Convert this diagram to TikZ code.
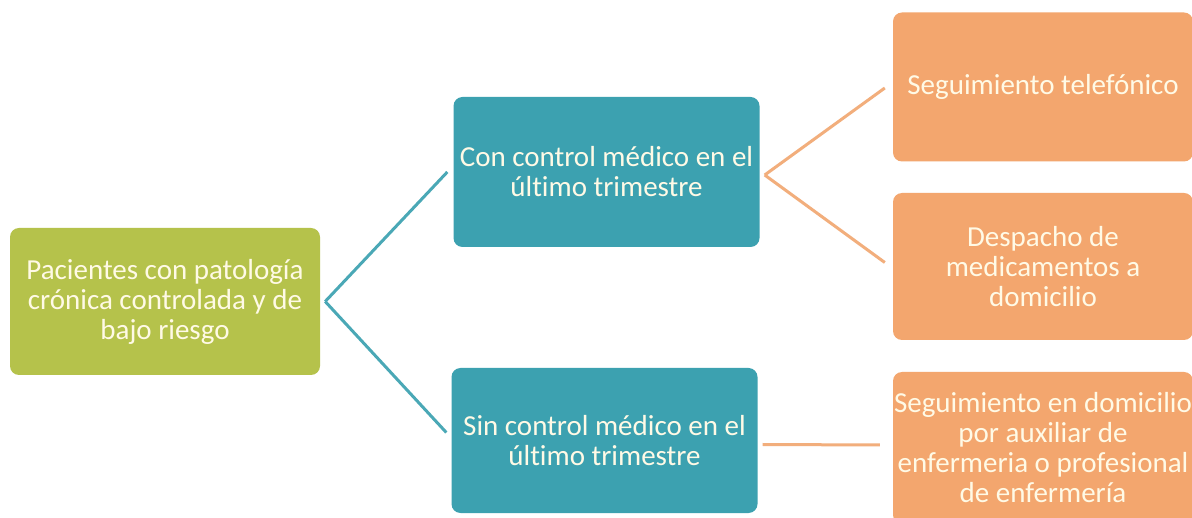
\documentclass[tikz,border=0pt]{standalone}
\usepackage{fontspec}
\setmainfont{Carlito}[Ligatures=NoCommon]
\usetikzlibrary{calc}
\definecolor{greenbox}{HTML}{B5C24B}
\definecolor{tealbox}{HTML}{3CA1B0}
\definecolor{orangebox}{HTML}{F3A66E}
\definecolor{tealline}{HTML}{4AA8B6}
\definecolor{orangeline}{HTML}{F2AE7C}
\definecolor{txt}{HTML}{FFFAE6}
\begin{document}
\begin{tikzpicture}[x=1pt,y=-1pt,
  box/.style={rectangle,rounded corners=9pt,text=txt,align=center,
    font=\fontsize{29}{30}\selectfont,inner sep=0pt},
  gbox/.style={box,fill=greenbox,minimum width=310pt,minimum height=147pt},
  tbox/.style={box,fill=tealbox,minimum width=306pt,minimum height=150pt},
  obox/.style={box,fill=orangebox,minimum width=300pt,minimum height=149pt},
  tconn/.style={draw=tealline,line width=3pt},
  oconn/.style={draw=orangeline,line width=3pt}]
\useasboundingbox (0,0) rectangle (1192,518);
\fill[white] (0,0) rectangle (1192,518);
\node[gbox] (g) at (165,301.5) {Pacientes con patología\\crónica controlada y de\\bajo riesgo};
\node[tbox] (t1) at (606.5,172) {Con control médico en el\\último trimestre};
\node[tbox,minimum height=145pt] (t2) at (604.5,440.5) {Sin control médico en el\\último trimestre};
\node[obox] (o1) at (1043,87) {Seguimiento telefónico};
\node[obox,minimum height=147pt] (o2) at (1043,266.5) {Despacho de\\medicamentos a\\domicilio};
\node[obox,minimum height=152pt] (o3) at (1043,448) {Seguimiento en domicilio\\por auxiliar de\\enfermeria o profesional\\de enfermería};
\coordinate (gs) at ($(g.east)+(5,0)$);
\draw[tconn] (gs) -- ($(t1.west)+(-6,0)$);
\draw[tconn] (gs) -- ($(t2.west)+(-5,-8)$);
\coordinate (ts) at ($(t1.east)+(5,3)$);
\draw[oconn] (ts) -- ($(o1.west)+(-8,1)$);
\draw[oconn] (ts) -- ($(o2.west)+(-8,-4)$);
\draw[oconn] ($(t2.east)+(5,4)$) -- ($(o3.west)+(-13,-3)$);
\end{tikzpicture}
\end{document}
